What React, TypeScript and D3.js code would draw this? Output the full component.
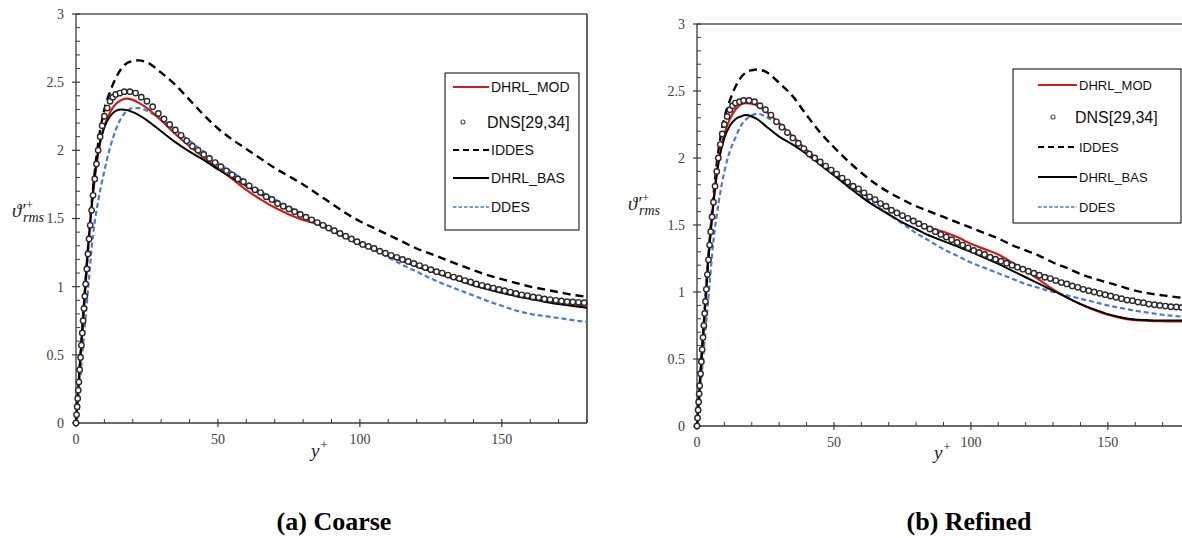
import React from 'react';
import * as d3 from 'd3';

// ---------------- DATA ----------------
const MODEL_YPLUS = [0, 2, 4, 6, 8, 10, 12, 14, 16, 18, 20, 22, 25, 30, 35, 40, 45, 50, 55, 60, 65, 70, 75, 80, 85, 90, 95, 100, 105, 110, 115, 120, 125, 130, 135, 140, 145, 150, 155, 160, 165, 170, 175, 180];

const COARSE_MOD = [0, 0.60, 1.20, 1.68, 2.00, 2.18, 2.28, 2.34, 2.37, 2.38, 2.37, 2.35, 2.31, 2.22, 2.12, 2.03, 1.95, 1.87, 1.79, 1.71, 1.64, 1.58, 1.53, 1.49, 1.46, 1.41, 1.36, 1.31, 1.27, 1.225, 1.19, 1.15, 1.115, 1.08, 1.05, 1.015, 0.99, 0.965, 0.94, 0.92, 0.90, 0.885, 0.872, 0.862];
const COARSE_BAS = [0, 0.62, 1.22, 1.70, 2.02, 2.17, 2.25, 2.29, 2.30, 2.295, 2.28, 2.26, 2.22, 2.14, 2.06, 1.99, 1.93, 1.86, 1.80, 1.74, 1.68, 1.62, 1.57, 1.52, 1.47, 1.42, 1.37, 1.32, 1.275, 1.23, 1.19, 1.15, 1.115, 1.08, 1.045, 1.01, 0.98, 0.955, 0.93, 0.91, 0.89, 0.872, 0.858, 0.845];
const COARSE_DDES = [0, 0.45, 0.92, 1.38, 1.65, 1.85, 2.02, 2.15, 2.24, 2.29, 2.31, 2.31, 2.29, 2.23, 2.15, 2.07, 1.99, 1.91, 1.84, 1.77, 1.70, 1.64, 1.585, 1.53, 1.48, 1.43, 1.375, 1.32, 1.275, 1.215, 1.16, 1.11, 1.06, 1.015, 0.975, 0.935, 0.895, 0.86, 0.825, 0.80, 0.785, 0.77, 0.755, 0.74];
const COARSE_IDDES = [0, 0.62, 1.22, 1.72, 2.08, 2.30, 2.43, 2.53, 2.60, 2.64, 2.655, 2.66, 2.645, 2.57, 2.48, 2.37, 2.26, 2.16, 2.08, 2.01, 1.94, 1.87, 1.81, 1.75, 1.68, 1.61, 1.54, 1.48, 1.43, 1.38, 1.33, 1.28, 1.24, 1.20, 1.16, 1.12, 1.085, 1.055, 1.027, 1.00, 0.98, 0.96, 0.94, 0.925];

const REFINED_MOD = [0, 0.60, 1.20, 1.68, 2.00, 2.18, 2.29, 2.36, 2.40, 2.41, 2.405, 2.39, 2.35, 2.26, 2.16, 2.06, 1.97, 1.89, 1.81, 1.74, 1.68, 1.62, 1.57, 1.52, 1.48, 1.45, 1.41, 1.36, 1.32, 1.28, 1.22, 1.16, 1.09, 1.02, 0.96, 0.91, 0.865, 0.83, 0.805, 0.79, 0.785, 0.782, 0.78, 0.78];
const REFINED_BAS = [0, 0.60, 1.20, 1.66, 1.98, 2.15, 2.24, 2.29, 2.31, 2.32, 2.31, 2.29, 2.24, 2.16, 2.10, 2.03, 1.95, 1.87, 1.79, 1.71, 1.64, 1.58, 1.52, 1.47, 1.42, 1.38, 1.34, 1.30, 1.255, 1.21, 1.16, 1.11, 1.06, 1.01, 0.96, 0.91, 0.87, 0.835, 0.81, 0.795, 0.79, 0.788, 0.787, 0.787];
const REFINED_DDES = [0, 0.45, 0.92, 1.38, 1.68, 1.90, 2.05, 2.15, 2.24, 2.29, 2.32, 2.33, 2.31, 2.24, 2.15, 2.06, 1.97, 1.88, 1.79, 1.72, 1.65, 1.58, 1.51, 1.44, 1.38, 1.32, 1.27, 1.22, 1.18, 1.14, 1.10, 1.06, 1.03, 1.00, 0.975, 0.95, 0.925, 0.90, 0.88, 0.86, 0.845, 0.83, 0.82, 0.81];
const REFINED_IDDES = [0, 0.62, 1.22, 1.72, 2.08, 2.30, 2.43, 2.53, 2.60, 2.64, 2.655, 2.66, 2.645, 2.56, 2.46, 2.32, 2.19, 2.08, 1.98, 1.89, 1.81, 1.745, 1.69, 1.64, 1.60, 1.56, 1.52, 1.48, 1.44, 1.40, 1.35, 1.31, 1.27, 1.22, 1.18, 1.135, 1.10, 1.07, 1.04, 1.01, 0.99, 0.975, 0.962, 0.955];

const DNS_YPLUS = [0, 0.2, 0.4, 0.6, 0.8, 1.0, 1.3, 1.6, 1.9, 2.2, 2.5, 2.8, 3.1, 3.4, 3.8, 4.2, 4.6, 5.0, 5.5, 6.0, 6.6, 7.2, 7.8, 8.5, 9.2, 10, 11, 12, 13, 14, 15.5, 17, 19,
  21, 23, 25, 27, 29, 31, 33, 35, 37, 39, 41, 43, 45, 47, 49, 51, 53, 55, 57, 59, 61, 63, 65, 67, 69, 71, 73, 75, 77, 79, 81, 83, 85, 87, 89, 91, 93, 95, 97, 99,
  101, 103, 105, 107, 109, 111, 113, 115, 117, 119, 121, 123, 125, 127, 129, 131, 133, 135, 137, 139, 141, 143, 145, 147, 149, 151, 153, 155, 157, 159, 161, 163, 165, 167, 169, 171, 173, 175, 177, 179];
const DNS_THETA = [0, 0.06, 0.12, 0.18, 0.24, 0.30, 0.39, 0.48, 0.57, 0.66, 0.75, 0.84, 0.93, 1.02, 1.13, 1.24, 1.35, 1.45, 1.56, 1.67, 1.79, 1.90, 2.00, 2.10, 2.18, 2.25, 2.31, 2.36, 2.39, 2.41, 2.42, 2.43, 2.43,
  2.42, 2.39, 2.36, 2.32, 2.27, 2.23, 2.19, 2.15, 2.11, 2.07, 2.03, 2.00, 1.97, 1.94, 1.91, 1.88, 1.85, 1.82, 1.79, 1.77, 1.74, 1.71, 1.69, 1.66, 1.64, 1.61, 1.59, 1.57, 1.55, 1.53, 1.51, 1.49, 1.47, 1.45, 1.43, 1.41, 1.39, 1.37, 1.35, 1.33,
  1.31, 1.295, 1.28, 1.26, 1.245, 1.23, 1.215, 1.20, 1.185, 1.17, 1.155, 1.14, 1.125, 1.11, 1.10, 1.085, 1.07, 1.06, 1.045, 1.035, 1.02, 1.01, 1.00, 0.99, 0.98, 0.97, 0.96, 0.95, 0.94, 0.935, 0.925, 0.92, 0.91, 0.905, 0.90, 0.895, 0.89, 0.888, 0.885, 0.882];

const X_TICKS = [0, 50, 100, 150];
const Y_TICKS = [0, 0.5, 1, 1.5, 2, 2.5, 3];
const LEGEND_LABELS = ['DHRL_MOD', 'DNS[29,34]', 'IDDES', 'DHRL_BAS', 'DDES'];
const CAPTIONS = ['(a) Coarse', '(b) Refined'];

// ---------------- STYLES ----------------
const RED = '#d01c1c';
const BLUE = '#4a7bd0';
const BLACK = '#000';

type PanelCfg = {
  id: string;
  xr: [number, number];
  yr: [number, number];
  mod: number[]; bas: number[]; ddes: number[]; iddes: number[];
  legend: { x: number; y: number; w: number; h: number; rows: number[]; l0: number; l1: number; tx: number; mx: number; fs: number; dfs: number };
  ylab: { x: number; y: number };
  xlab: { x: number; y: number };
  caption: { x: number; y: number; text: string };
};

const zip = (xs: number[], ys: number[]) => {
  const n = Math.min(xs.length, ys.length);
  const out: [number, number][] = [];
  for (let i = 0; i < n; i++) out.push([xs[i], ys[i]]);
  return out;
};

function Panel({ c }: { c: PanelCfg }) {
  const x = d3.scaleLinear().domain([0, 180]).range(c.xr);
  const y = d3.scaleLinear().domain([0, 3]).range(c.yr);
  const line = d3.line<[number, number]>().x(d => x(d[0])).y(d => y(d[1])).curve(d3.curveMonotoneX);
  const [x0, x1] = c.xr;
  const [yb, yt] = c.yr;
  const minorY = d3.range(0, 3.0001, 0.1).filter(v => Math.abs(v * 2 - Math.round(v * 2)) > 1e-6);
  const minorX = d3.range(0, 181, 10).filter(v => v % 50 !== 0);
  const dns = zip(DNS_YPLUS, DNS_THETA);
  const L = c.legend;
  const axisCol = '#3a3a3a';
  const tickFont = { fontFamily: "'Liberation Serif', 'Times New Roman', serif", fontSize: 14, fill: '#404040' } as const;
  return (
    <g>
      <defs>
        <clipPath id={`clip-${c.id}`}>
          <rect x={x0 - 5} y={yt - 2} width={x1 - x0 + 10} height={yb - yt + 7} />
        </clipPath>
      </defs>
      {/* frame */}
      <line x1={x0} x2={x1} y1={yt} y2={yt} stroke="#555" strokeWidth={1.6} />
      <line x1={x1} x2={x1} y1={yt} y2={yb} stroke="#222" strokeWidth={1.4} />
      <line x1={x0} x2={x0} y1={yt} y2={yb} stroke={axisCol} strokeWidth={1.3} />
      <line x1={x0} x2={x1} y1={yb} y2={yb} stroke={axisCol} strokeWidth={1.3} />
      {/* y ticks */}
      {Y_TICKS.map(v => (
        <g key={`yt${v}`}>
          <line x1={x0 - 4} x2={x0 + 4} y1={y(v)} y2={y(v)} stroke={axisCol} strokeWidth={1.2} />
          <text x={x0 - 12} y={y(v)} dy="0.35em" textAnchor="end" {...tickFont}>{String(v)}</text>
        </g>
      ))}
      {minorY.map(v => (
        <line key={`ym${v}`} x1={x0} x2={x0 + 4} y1={y(v)} y2={y(v)} stroke={axisCol} strokeWidth={1} />
      ))}
      {/* x ticks */}
      {X_TICKS.map(v => (
        <g key={`xt${v}`}>
          <line x1={x(v)} x2={x(v)} y1={yb - 4} y2={yb + 4} stroke={axisCol} strokeWidth={1.2} />
          <text x={x(v)} y={yb + 21} textAnchor="middle" {...tickFont}>{String(v)}</text>
        </g>
      ))}
      {minorX.map(v => (
        <line key={`xm${v}`} x1={x(v)} x2={x(v)} y1={yb - 4} y2={yb} stroke={axisCol} strokeWidth={1} />
      ))}
      {/* curves */}
      <g clipPath={`url(#clip-${c.id})`}>
        <path d={line(zip(MODEL_YPLUS, c.iddes)) || ''} fill="none" stroke={BLACK} strokeWidth={2.4} strokeDasharray="8,5" />
        <path d={line(zip(MODEL_YPLUS, c.ddes)) || ''} fill="none" stroke={BLUE} strokeWidth={2.2} strokeDasharray="5,3" />
        <path d={line(zip(MODEL_YPLUS, c.mod)) || ''} fill="none" stroke={RED} strokeWidth={2.2} />
        <path d={line(zip(MODEL_YPLUS, c.bas)) || ''} fill="none" stroke={BLACK} strokeWidth={2} />
        {dns.map((d, i) => (
          <circle key={i} cx={x(d[0])} cy={y(d[1])} r={2.7} fill="#fff" stroke="#2a2a2a" strokeWidth={1.4} />
        ))}
      </g>
      {/* legend */}
      <rect x={L.x} y={L.y} width={L.w} height={L.h} fill="#fff" stroke="#000" strokeWidth={1} />
      {LEGEND_LABELS.map((lab, i) => {
        const ry = L.rows[i];
        const isDns = i === 1;
        let sample: React.ReactNode = null;
        if (i === 0) sample = <line x1={L.l0} x2={L.l1} y1={ry} y2={ry} stroke={RED} strokeWidth={2} />;
        if (i === 1) sample = <circle cx={L.mx} cy={ry} r={2} fill="#fff" stroke="#555" strokeWidth={1.2} />;
        if (i === 2) sample = <line x1={L.l0} x2={L.l1} y1={ry} y2={ry} stroke={BLACK} strokeWidth={2} strokeDasharray="6,4" />;
        if (i === 3) sample = <line x1={L.l0} x2={L.l1} y1={ry} y2={ry} stroke={BLACK} strokeWidth={2} />;
        if (i === 4) sample = <line x1={L.l0} x2={L.l1} y1={ry} y2={ry} stroke={BLUE} strokeWidth={1.6} strokeDasharray="3.5,2" />;
        return (
          <g key={lab}>
            {sample}
            <text x={isDns ? L.tx - 4 : L.tx} y={ry} dy="0.36em" fontFamily="'Liberation Sans', Arial, sans-serif" fontSize={isDns ? L.dfs : L.fs} fill="#111">{lab}</text>
          </g>
        );
      })}
      {/* axis titles */}
      <text x={c.ylab.x} y={c.ylab.y} fontFamily="'Liberation Serif', serif" fontStyle="italic" fontSize={19} fill="#222">
        ϑ′<tspan dy={-8} fontSize={12}>+</tspan><tspan x={c.ylab.x + 11} dy={13} fontSize={14}>rms</tspan>
      </text>
      <text x={c.xlab.x} y={c.xlab.y} fontFamily="'Liberation Serif', serif" fontStyle="italic" fontSize={19} fill="#222">
        y<tspan dy={-8} fontSize={13}>+</tspan>
      </text>
      <text x={c.caption.x} y={c.caption.y} textAnchor="middle" fontFamily="'Liberation Serif', serif" fontWeight="bold" fontSize={26} fill="#000">{c.caption.text}</text>
    </g>
  );
}

const PANELS: PanelCfg[] = [
  {
    id: 'a', xr: [76, 587], yr: [423, 14],
    mod: COARSE_MOD, bas: COARSE_BAS, ddes: COARSE_DDES, iddes: COARSE_IDDES,
    legend: { x: 445, y: 73, w: 134, h: 157, rows: [87, 122, 150, 178, 207], l0: 453, l1: 489, tx: 491, mx: 463, fs: 14, dfs: 16 },
    ylab: { x: 12, y: 217 }, xlab: { x: 311, y: 457 },
    caption: { x: 334, y: 530, text: CAPTIONS[0] },
  },
  {
    id: 'b', xr: [697, 1190], yr: [426, 24],
    mod: REFINED_MOD, bas: REFINED_BAS, ddes: REFINED_DDES, iddes: REFINED_IDDES,
    legend: { x: 1013, y: 69, w: 168, h: 154, rows: [85, 117, 147, 177, 207], l0: 1038, l1: 1077, tx: 1079, mx: 1053, fs: 13, dfs: 16 },
    ylab: { x: 628, y: 210 }, xlab: { x: 934, y: 459 },
    caption: { x: 969, y: 530, text: CAPTIONS[1] },
  },
];

export default function App() {
  return (
    <svg width={1182} height={538} style={{ position: 'absolute', left: 0, top: 0, background: '#fff' }}>
      <rect x={0} y={0} width={1182} height={538} fill="#fff" />
      {PANELS.map(p => <Panel key={p.id} c={p} />)}
    </svg>
  );
}
